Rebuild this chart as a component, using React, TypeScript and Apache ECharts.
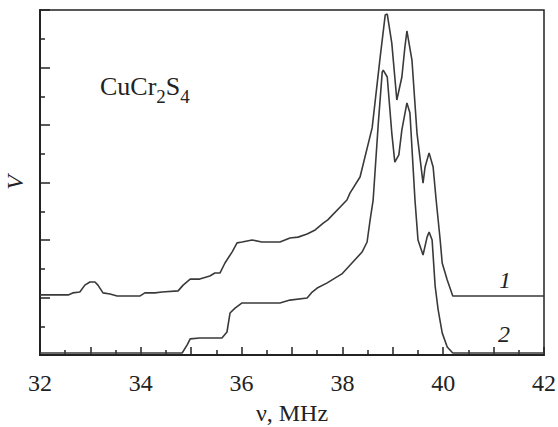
import React, { useEffect, useRef } from "react";
import * as echarts from "echarts";

// Frequency (MHz) and signal V (arb. units)
const curve1X = [32.0, 32.56, 32.65, 32.79, 32.89, 32.99, 33.09, 33.15, 33.25, 33.39, 33.53, 33.98, 34.08, 34.28, 34.42, 34.74, 34.84, 34.98, 35.17, 35.37, 35.47, 35.57, 35.67, 35.81, 35.91, 36.01, 36.21, 36.4, 36.76, 36.96, 37.12, 37.3, 37.46, 37.62, 37.71, 38.09, 38.15, 38.35, 38.59, 38.75, 38.85, 38.89, 38.98, 39.08, 39.18, 39.24, 39.28, 39.38, 39.48, 39.6, 39.64, 39.72, 39.8, 39.86, 39.94, 39.98, 40.08, 40.19, 42.0];
const curve1Y = [2.09, 2.09, 2.16, 2.19, 2.43, 2.54, 2.54, 2.43, 2.16, 2.12, 2.05, 2.05, 2.16, 2.16, 2.19, 2.23, 2.43, 2.64, 2.64, 2.75, 2.85, 2.85, 3.2, 3.58, 3.9, 3.93, 4.0, 3.93, 3.93, 4.07, 4.1, 4.21, 4.35, 4.59, 4.7, 5.39, 5.63, 6.19, 7.9, 10.37, 11.83, 11.86, 10.85, 8.87, 9.67, 10.71, 11.27, 10.26, 7.72, 5.98, 6.54, 7.03, 6.54, 5.39, 4.0, 3.2, 2.61, 2.05, 2.05];

const curve2X = [32.0, 34.82, 34.92, 34.98, 35.17, 35.61, 35.71, 35.77, 35.87, 36.01, 36.76, 36.96, 37.3, 37.4, 37.5, 37.69, 37.99, 38.19, 38.39, 38.49, 38.55, 38.61, 38.71, 38.79, 38.81, 38.89, 38.98, 39.04, 39.12, 39.18, 39.28, 39.34, 39.44, 39.5, 39.6, 39.68, 39.72, 39.78, 39.84, 39.9, 39.98, 40.08, 40.19, 42.0];
const curve2Y = [0.07, 0.07, 0.35, 0.56, 0.59, 0.59, 0.8, 1.46, 1.63, 1.81, 1.81, 1.91, 1.98, 2.19, 2.33, 2.5, 2.82, 3.2, 3.58, 3.93, 4.7, 5.39, 8.0, 9.84, 9.91, 9.67, 7.72, 6.71, 6.96, 7.83, 8.77, 8.42, 5.39, 4.0, 3.48, 4.1, 4.28, 4.0, 2.4, 1.57, 0.77, 0.28, 0.07, 0.07];

const xTickLabels = ["32", "34", "36", "38", "40", "42"];
const curveNames = ["1", "2"];

const FONT = "Liberation Serif";
const INK = "#222";
const LINE = "#3a3a3a";

export default function App() {
  const ref = useRef<HTMLDivElement>(null);

  useEffect(() => {
    document.body.style.margin = "0";
    if (!ref.current) return;
    const chart = echarts.init(ref.current, null, { renderer: "svg" });
    const pair = (xs: number[], ys: number[]) => xs.map((x, i) => [x, ys[i]]);

    chart.setOption({
      animation: false,
      backgroundColor: "#fff",
      grid: {
        left: 40,
        right: 14,
        top: 10,
        bottom: 72,
        show: true,
        borderColor: INK,
        borderWidth: 1.5,
        containLabel: false,
        outerBoundsMode: "none",
      },
      xAxis: {
        type: "value",
        min: 32,
        max: 42,
        interval: 1,
        name: "ν, MHz",
        nameLocation: "middle",
        nameGap: 46,
        nameTextStyle: { fontFamily: FONT, fontSize: 24, color: INK },
        axisLine: { show: true, lineStyle: { color: INK, width: 2 } },
        axisTick: { show: true, inside: true, length: 8, lineStyle: { color: INK, width: 1.5 } },
        minorTick: { show: true, splitNumber: 2, length: 5, lineStyle: { color: INK, width: 1.5 } },
        splitLine: { show: false },
        minorSplitLine: { show: false },
        axisLabel: {
          fontFamily: FONT,
          fontSize: 24,
          color: INK,
          margin: 16,
          formatter: (v: number) => (xTickLabels.includes(String(v)) ? String(v) : ""),
        },
      },
      yAxis: {
        type: "value",
        min: 0,
        max: 12,
        interval: 2,
        name: "V",
        nameLocation: "middle",
        nameGap: 13,
        nameRotate: 90,
        nameTextStyle: { fontFamily: FONT, fontSize: 24, fontStyle: "italic", color: INK },
        axisLine: { show: true, lineStyle: { color: INK, width: 2 } },
        axisTick: { show: true, inside: true, length: 10, lineStyle: { color: INK, width: 1.5 } },
        minorTick: { show: true, splitNumber: 2, length: 5, lineStyle: { color: INK, width: 1.5 } },
        splitLine: { show: false },
        minorSplitLine: { show: false },
        axisLabel: { show: false },
      },
      series: [
        {
          name: curveNames[0],
          type: "line",
          data: pair(curve1X, curve1Y),
          showSymbol: false,
          symbol: "none",
          lineStyle: { color: LINE, width: 1.6 },
          z: 3,
        },
        {
          name: curveNames[1],
          type: "line",
          data: pair(curve2X, curve2Y),
          showSymbol: false,
          symbol: "none",
          lineStyle: { color: LINE, width: 1.6 },
          z: 3,
        },
      ],
      graphic: [
        {
          type: "text",
          left: 100,
          top: 73,
          style: {
            text: "{a|CuCr}{s|2}{a|S}{s|4}",
            rich: {
              a: { fontFamily: FONT, fontSize: 26, fill: INK, color: INK, lineHeight: 30, verticalAlign: "top" },
              s: { fontFamily: FONT, fontSize: 19, fill: INK, color: INK, lineHeight: 19, verticalAlign: "top", padding: [14, 0, 0, 0] },
            },
          },
        },
        {
          type: "text",
          x: 505,
          y: 280,
          style: {
            text: curveNames[0],
            fontFamily: FONT,
            fontSize: 24,
            fontStyle: "italic",
            fill: INK,
            align: "center",
            verticalAlign: "middle",
          },
        },
        {
          type: "text",
          x: 504,
          y: 334,
          style: {
            text: curveNames[1],
            fontFamily: FONT,
            fontSize: 24,
            fontStyle: "italic",
            fill: INK,
            align: "center",
            verticalAlign: "middle",
          },
        },
      ],
    });

    return () => chart.dispose();
  }, []);

  return <div ref={ref} style={{ width: 558, height: 427 }} />;
}
